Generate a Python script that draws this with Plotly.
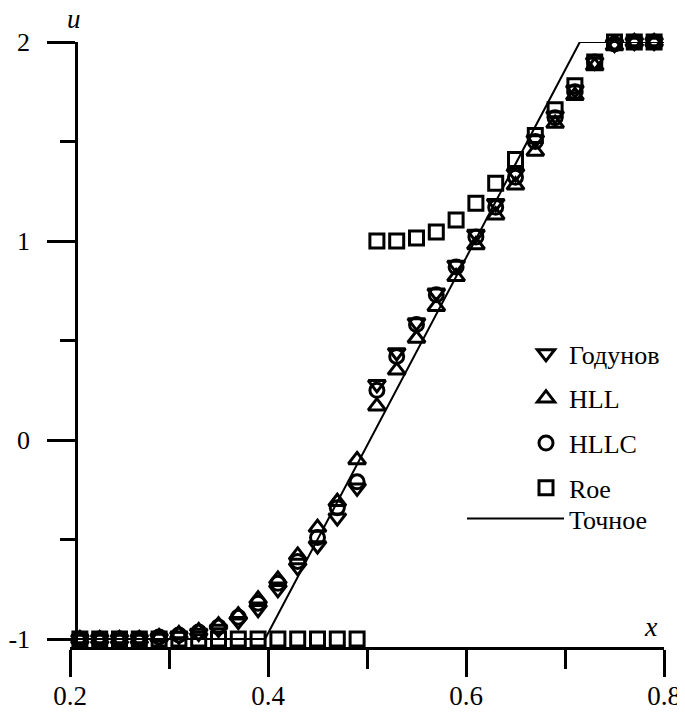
import plotly.graph_objects as go

# ---- data ----
x_cells = [0.21, 0.23, 0.25, 0.27, 0.29, 0.31, 0.33, 0.35, 0.37, 0.39,
           0.41, 0.43, 0.45, 0.47, 0.49, 0.51, 0.53, 0.55, 0.57, 0.59,
           0.61, 0.63, 0.65, 0.67, 0.69, 0.71, 0.73, 0.75, 0.77, 0.79]

godunov = [-1, -1, -1, -1, -0.995, -0.985, -0.97, -0.95, -0.91, -0.85,
           -0.75, -0.64, -0.53, -0.39, -0.24, 0.28, 0.44, 0.59, 0.74, 0.88,
           1.035, 1.19, 1.34, 1.51, 1.63, 1.76, 1.9, 1.99, 2.0, 2.0]

hll = [-1, -1, -1, -1, -0.99, -0.975, -0.96, -0.93, -0.88, -0.80,
       -0.70, -0.58, -0.44, -0.31, -0.10, 0.17, 0.35, 0.51, 0.67, 0.82,
       0.98, 1.13, 1.28, 1.45, 1.59, 1.73, 1.88, 1.98, 2.0, 2.0]

hllc = [-1, -1, -1, -1, -0.99, -0.98, -0.965, -0.94, -0.89, -0.82,
        -0.72, -0.61, -0.49, -0.34, -0.21, 0.25, 0.42, 0.58, 0.73, 0.87,
        1.02, 1.17, 1.32, 1.5, 1.62, 1.75, 1.9, 1.99, 2.0, 2.0]

roe = [-1, -1, -1, -1, -1, -1, -1, -1, -1, -1,
       -1, -1, -1, -1, -1, 1.0, 1.0, 1.015, 1.045, 1.105,
       1.19, 1.29, 1.41, 1.53, 1.66, 1.78, 1.9, 2.0, 2.0, 2.0]

exact_x = [0.2, 0.397, 0.715, 0.8]
exact_u = [-1, -1, 2, 2]

x_tickvals = [0.2, 0.4, 0.6, 0.8]
x_ticktext = ["0.2", "0.4", "0.6", "0.8"]
x_minor = [0.3, 0.5, 0.7]
y_tickvals = [-1, 0, 1, 2]
y_ticktext = ["-1", "0", "1", "2"]
y_minor = [-0.5, 0.5, 1.5]

names = ["Годунов", "HLL", "HLLC", "Roe", "Точное"]

FONT = '"Liberation Serif", "Times New Roman", Times, serif'
# page body has an 8px margin: figure is drawn offset by (8, 8)
OFF = 8
W, H = 685 - OFF, 712 - OFF
ML, MR, MT, MB = 70 - OFF, 21, 42 - OFF, 65
PW = W - ML - MR
PH = H - MT - MB

def px_x(p):  # screen pixel -> paper fraction
    return (p - OFF - ML) / PW

def px_y(p):
    return (H - MB - (p - OFF)) / PH

fig = go.Figure()

fig.add_trace(go.Scatter(x=exact_x, y=exact_u, mode="lines", name=names[4],
                         line=dict(color="black", width=2), legend="legend2",
                         cliponaxis=False))

series = [(godunov, "triangle-down-open", 15), (hll, "triangle-up-open", 15),
          (hllc, "circle-open", 14), (roe, "square-open", 14)]
for i, (vals, sym, sz) in enumerate(series):
    fig.add_trace(go.Scatter(
        x=x_cells, y=vals, mode="markers", name=names[i],
        legendgroup=names[i], cliponaxis=False,
        marker=dict(symbol=sym, size=sz, color="black",
                    line=dict(color="black", width=3))))

axis_common = dict(showline=True, linecolor="black", linewidth=2.5,
                   ticks="outside", tickcolor="black", tickwidth=2.5,
                   showgrid=False, zeroline=False, automargin=False)

fig.update_layout(
    width=W, height=H,
    margin=dict(l=ML, r=MR, t=MT, b=MB, autoexpand=False),
    plot_bgcolor="white", paper_bgcolor="white",
    font=dict(family=FONT, color="black"),
    xaxis=dict(range=[0.2, 0.8], tickmode="array", tickvals=x_tickvals,
               ticktext=x_ticktext, ticklen=27, ticklabelstandoff=-4,
               tickfont=dict(family=FONT, size=27, color="black"),
               minor=dict(tickmode="array", tickvals=x_minor, ticklen=19,
                          tickwidth=2.5, tickcolor="black", ticks="outside"),
               **axis_common),
    yaxis=dict(range=[-1.04, 2.0], tickmode="array", tickvals=y_tickvals,
               ticktext=y_ticktext, ticklen=28, anchor="free",
               position=px_x(76), ticklabelstandoff=12,
               tickfont=dict(family=FONT, size=26, color="black"),
               minor=dict(tickmode="array", tickvals=y_minor, ticklen=15,
                          tickwidth=2.5, tickcolor="black", ticks="outside"),
               **axis_common),
    legend=dict(x=px_x(523), y=px_y(330), xanchor="left", yanchor="top",
                bgcolor="rgba(0,0,0,0)", tracegroupgap=8, itemwidth=36,
                font=dict(family=FONT, size=26, color="black")),
    legend2=dict(x=px_x(462), y=px_y(495), xanchor="left", yanchor="top",
                 bgcolor="rgba(0,0,0,0)", itemwidth=97,
                 font=dict(family=FONT, size=26, color="black")),
    annotations=[
        dict(text="<i>u</i>", xref="paper", yref="paper", x=px_x(74), y=px_y(19),
             xanchor="center", yanchor="middle",
             showarrow=False, font=dict(family=FONT, size=27, color="black")),
        dict(text="<i>x</i>", xref="paper", yref="paper", x=px_x(651), y=px_y(626),
             xanchor="center", yanchor="middle",
             showarrow=False, font=dict(family=FONT, size=28, color="black")),
    ],
)

fig.write_html("out.html")
